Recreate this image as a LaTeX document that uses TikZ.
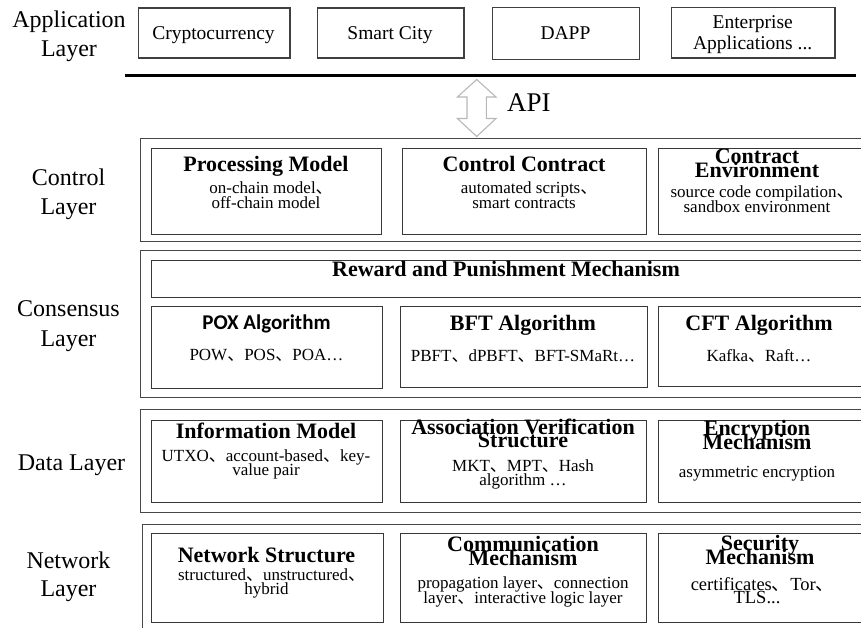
\documentclass[tikz,border=0pt]{standalone}
\usepackage{fontspec}
\setmainfont{Liberation Serif}
\newfontfamily\cjkfont{Noto Sans CJK SC}
\newfontfamily\calfont{Carlito}
\newcommand\ideo{{\cjkfont 、}}
\newcommand\ideoend{\makebox[0.4em][l]{\cjkfont 、}}
\usetikzlibrary{calc}
\tikzset{
  boxst/.style={draw=black!78, line width=1.1pt, rectangle, inner sep=0pt, anchor=north west},
  outerst/.style={draw=black!72, line width=1.1pt, rectangle, inner sep=0pt, anchor=north west},
  appst/.style={draw=black!75, line width=1.2pt, rectangle, inner sep=0pt, anchor=north west},
  lab/.style={anchor=base, inner sep=0pt, font=\fontsize{24}{28}\selectfont},
  apptxt/.style={anchor=base, inner sep=0pt, font=\fontsize{19.5}{21}\selectfont},
  ttl/.style={anchor=base, inner sep=0pt, font=\fontsize{22}{22}\selectfont\bfseries},
  ttlsans/.style={anchor=base, inner sep=0pt, font=\fontsize{21}{21}\selectfont\calfont\bfseries},
  sub/.style={anchor=base, inner sep=0pt, font=\fontsize{17}{17}\selectfont},
  subbig/.style={anchor=base, inner sep=0pt, font=\fontsize{18.5}{18.5}\selectfont},
  apiarrow/.style={draw=black!28, line width=1.1pt, fill=white, line join=miter}
}
\begin{document}
\begin{tikzpicture}[x=1pt,y=-1pt]
\useasboundingbox (0,0) rectangle (861,627);
\clip (0,0) rectangle (861,627);

% ---------- Application layer ----------
\node[lab] (labApp1) at (69,27.3) {Application};
\node[lab] (labApp2) at (69,56) {Layer};

\node[appst, minimum width=151.6pt, minimum height=50pt] (cr) at (137.7,7.3) {};
\node[appst, minimum width=146.6pt, minimum height=50pt] (sm) at (316.7,7.3) {};
\node[appst, minimum width=147pt, minimum height=52pt] (da) at (492,6.7) {};
\node[appst, minimum width=163.3pt, minimum height=50.6pt] (ent) at (671,6.7) {};

\node[apptxt] (crT) at (213.5,39.3) {Cryptocurrency};
\node[apptxt] (smT) at (390,39.5) {Smart City};
\node[apptxt] (daT) at (565.5,39.5) {DAPP};
\node[apptxt] (entT1) at (752.7,28.3) {Enterprise};
\node[apptxt] (entT2) at (752.7,49.3) {Applications ...};

\draw[line width=2.7pt] (125,75.5) -- (856,75.5);

% ---------- API arrow ----------
\coordinate (apitop) at (476.7,79.5);
\coordinate (apibot) at (476.7,136.5);
\draw[apiarrow] (apitop) -- ($(apitop)+(19.3,17.5)$) -- ($(apitop)+(9.7,17.5)$)
  -- ($(apibot)+(9.7,-18)$) -- ($(apibot)+(19.3,-18)$) -- (apibot)
  -- ($(apibot)+(-19.3,-18)$) -- ($(apibot)+(-9.7,-18)$)
  -- ($(apitop)+(-9.7,17.5)$) -- ($(apitop)+(-19.3,17.5)$) -- cycle;
\node[anchor=base west, inner sep=0pt, font=\fontsize{27}{27}\selectfont] (api) at (507,111.7) {API};

% ---------- Control layer ----------
\node[lab] (labC1) at (68.5,185) {Control};
\node[lab] (labC2) at (68.5,214) {Layer};
\node[outerst, minimum width=723.5pt, minimum height=103pt] (ctrl) at (139.5,138) {};
\node[boxst, minimum width=230pt, minimum height=86.5pt] (pm) at (151,147.5) {};
\node[boxst, minimum width=243.4pt, minimum height=86.5pt] (cc) at (402.3,147.5) {};
\node[boxst, minimum width=206pt, minimum height=86.5pt] (ce) at (657.5,147.5) {};

\node[ttl] (pmT) at (266,171.7) {Processing Model};
\node[sub] (pmS1) at (266,193.5) {on-chain model\ideoend};
\node[sub] (pmS2) at (266,208.5) {off-chain model};

\node[ttl] (ccT) at (524,171.7) {Control Contract};
\node[sub] (ccS1) at (524,193.5) {automated scripts\ideoend};
\node[sub] (ccS2) at (524,208.5) {smart contracts};

\node[ttl] (ceT1) at (757,163) {Contract};
\node[ttl] (ceT2) at (757,177) {Environment};
\node[sub] (ceS1) at (757,197.5) {source code compilation\ideoend};
\node[sub] (ceS2) at (757,212) {sandbox environment};

% ---------- Consensus layer ----------
\node[lab] (labK1) at (68.5,316.7) {Consensus};
\node[lab] (labK2) at (68.5,346) {Layer};
\node[outerst, minimum width=723.5pt, minimum height=147pt] (cons) at (139.5,249.5) {};
\node[boxst, minimum width=712pt, minimum height=36.5pt] (rw) at (151,260) {};
\node[boxst, minimum width=231pt, minimum height=82pt] (pox) at (151,305.5) {};
\node[boxst, minimum width=247pt, minimum height=81pt] (bft) at (399.5,305.5) {};
\node[boxst, minimum width=206pt, minimum height=80pt] (cft) at (657.5,305.5) {};

\node[ttl] (rwT) at (506,276.7) {Reward and Punishment Mechanism};
\node[ttlsans] (poxT) at (266.5,329.5) {POX Algorithm};
\node[sub] (poxS) at (266.5,360.5) {POW\ideo POS\ideo POA…};
\node[ttl] (bftT) at (523,330) {BFT Algorithm};
\node[sub] (bftS) at (523,361) {PBFT\ideo dPBFT\ideo BFT-SMaRt…};
\node[ttl] (cftT) at (759,330) {CFT Algorithm};
\node[sub] (cftS) at (759,361) {Kafka\ideo Raft…};

% ---------- Data layer ----------
\node[lab] (labD) at (71.5,470) {Data Layer};
\node[outerst, minimum width=723.5pt, minimum height=102.4pt] (data) at (139.5,409.3) {};
\node[boxst, minimum width=230.5pt, minimum height=82.2pt] (im) at (151,419.5) {};
\node[boxst, minimum width=246.5pt, minimum height=82.2pt] (as) at (399.5,419.5) {};
\node[boxst, minimum width=205pt, minimum height=82.2pt] (en) at (658,419.5) {};

\node[ttl] (imT) at (266,438.5) {Information Model};
\node[sub] (imS1) at (266,461.5) {UTXO\ideo account-based\ideo key-};
\node[sub] (imS2) at (266,475.5) {value pair};

\node[ttl] (asT1) at (523,434.3) {Association Verification};
\node[ttl] (asT2) at (523,447.3) {Structure};
\node[sub] (asS1) at (523,471.2) {MKT\ideo MPT\ideo Hash};
\node[sub] (asS2) at (523,485.7) {algorithm …};

\node[ttl] (enT1) at (757,435.5) {Encryption};
\node[ttl] (enT2) at (757,449) {Mechanism};
\node[sub] (enS) at (757,477.5) {asymmetric encryption};

% ---------- Network layer ----------
\node[lab] (labN1) at (68.5,568) {Network};
\node[lab] (labN2) at (68.5,596.7) {Layer};
\node[outerst, minimum width=721pt, minimum height=108.5pt] (net) at (142,523.5) {};
\node[boxst, minimum width=231.5pt, minimum height=89pt] (ns) at (151,533.3) {};
\node[boxst, minimum width=245.7pt, minimum height=89pt] (cm) at (400,533.3) {};
\node[boxst, minimum width=205pt, minimum height=89pt] (sc) at (658.3,533.3) {};

\node[ttl] (nsT) at (266.5,562.5) {Network Structure};
\node[sub] (nsS1) at (266.5,580.5) {structured\ideo unstructured\ideoend};
\node[sub] (nsS2) at (266.5,594.5) {hybrid};

\node[ttl] (cmT1) at (523,551) {Communication};
\node[ttl] (cmT2) at (523,565) {Mechanism};
\node[sub] (cmS1) at (523,588.5) {propagation layer\ideo connection};
\node[sub] (cmS2) at (523,603) {layer\ideo interactive logic layer};

\node[ttl] (scT1) at (760,550) {Security};
\node[ttl] (scT2) at (760,564.3) {Mechanism};
\node[subbig] (scS1) at (757,590.5) {certificates\ideo Tor\ideoend};
\node[subbig] (scS2) at (757,603.5) {TLS...};
\end{tikzpicture}
\end{document}
